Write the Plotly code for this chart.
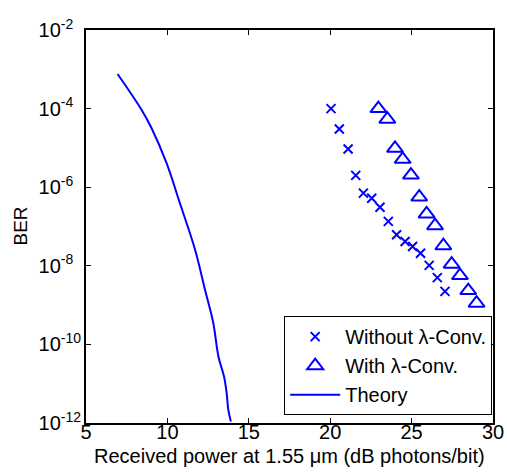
import plotly.graph_objects as go

# Without wavelength conversion (x markers)
wo_x = [20.05, 20.56, 21.1, 21.57, 22.04, 22.55, 23.06, 23.57, 24.08, 24.6, 25.06, 25.55, 26.08, 26.58, 27.05]
wo_logber = [-4.0, -4.52, -5.03, -5.70, -6.15, -6.28, -6.51, -6.87, -7.21, -7.38, -7.51, -7.68, -7.99, -8.30, -8.65]

# With wavelength conversion (triangles)
w_x = [22.96, 23.51, 23.98, 24.45, 24.96, 25.47, 25.92, 26.44, 26.95, 27.46, 27.97, 28.48, 28.99]
w_logber = [-4.0, -4.27, -5.01, -5.29, -5.69, -6.25, -6.68, -6.98, -7.49, -7.96, -8.25, -8.63, -8.95]

# Theory curve
th_x = [6.94, 8.41, 9.03, 9.95, 10.77, 11.7, 12.31, 12.82, 13.13, 13.48, 13.64, 13.74, 13.9]
th_logber = [-3.12, -4.03, -4.5, -5.39, -6.41, -7.59, -8.61, -9.46, -10.3, -10.82, -11.24, -11.66, -11.96]

x_ticks = [5, 10, 15, 20, 25, 30]
y_tick_exp = [-2, -4, -6, -8, -10, -12]

x_title = "Received power at 1.55 \u03bcm (dB photons/bit)"
y_title = "BER"

blue = "#0000ff"
font = "Arial, Liberation Sans, sans-serif"


def exp_label(e):
    s = str(e)
    pad = "\u2007" * (3 - len(s))  # keep the base "10" aligned like the original
    return "10<sup>%s%s</sup>" % (s, pad)


fig = go.Figure()
fig.add_trace(go.Scatter(
    x=wo_x, y=[10 ** v for v in wo_logber], mode="markers", name="Without \u03bb-Conv.",
    marker=dict(symbol="x-thin-open", size=9, color=blue, line=dict(width=2, color=blue))))
fig.add_trace(go.Scatter(
    x=w_x, y=[10 ** v for v in w_logber], mode="markers", name="With \u03bb-Conv.",
    marker=dict(symbol="triangle-up-open", size=14, color=blue, line=dict(width=2, color=blue))))
fig.add_trace(go.Scatter(
    x=th_x, y=[10 ** v for v in th_logber], mode="lines", name="Theory",
    line=dict(color=blue, width=2, shape="spline")))

axis_common = dict(showline=True, linecolor="black", linewidth=2, mirror="ticks",
                   ticks="inside", ticklen=5, tickwidth=1, tickcolor="black",
                   showgrid=False, zeroline=False, automargin=False,
                   tickfont=dict(family=font, size=20, color="black"))

fig.update_xaxes(range=[5, 30], tickvals=x_ticks, ticktext=[str(v) for v in x_ticks],
                 ticklabelstandoff=-10, **axis_common)
fig.update_yaxes(type="log", range=[-12, -2], tickvals=[10 ** e for e in y_tick_exp],
                 ticktext=[exp_label(e) for e in y_tick_exp],
                 ticklabelstandoff=-1, **axis_common)

fig.add_annotation(text=x_title, xref="paper", yref="paper", x=0.5, y=0,
                   xanchor="center", yanchor="bottom", yshift=-46, showarrow=False,
                   font=dict(family=font, size=20, color="black"))
fig.add_annotation(text=y_title, xref="paper", yref="paper", x=0, y=0.5,
                   xanchor="center", yanchor="middle", xshift=-66, textangle=-90,
                   showarrow=False, font=dict(family=font, size=19, color="black"))

fig.update_layout(
    width=507, height=472,
    margin=dict(l=86, r=14, t=30, b=49, autoexpand=False),
    paper_bgcolor="white", plot_bgcolor="white",
    font=dict(family=font, size=20, color="black"),
    legend=dict(x=0.998, y=0.02, xanchor="right", yanchor="bottom",
                bgcolor="white", bordercolor="black", borderwidth=1,
                font=dict(family=font, size=20, color="black"),
                itemwidth=50, tracegroupgap=0),
)

fig.write_html("out.html", config={"displayModeBar": False},
               post_script="document.body.style.margin='0';document.body.style.overflow='hidden';")
